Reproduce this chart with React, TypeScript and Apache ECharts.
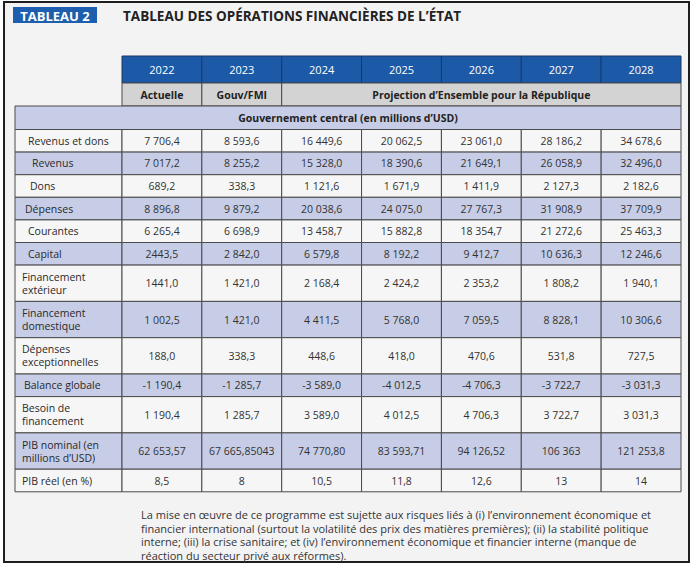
import React, { useEffect, useRef } from "react";
import * as echarts from "echarts";

// ---------- DATA ----------
const years = ["2022", "2023", "2024", "2025", "2026", "2027", "2028"];
const statusLabels = ["Actuelle", "Gouv/FMI"];
const projectionLabel = "Projection d’Ensemble pour la République";
const sectionLabel = "Gouvernement central (en millions d’USD)";
const titleText = "TABLEAU DES OPÉRATIONS FINANCIÈRES DE L’ÉTAT";
const badgeText = "TABLEAU 2";
const footnoteLines = [
  "La mise en œuvre de ce programme est sujette aux risques liés à (i) l’environnement économique et",
  "financier international (surtout la volatilité des prix des matières premières); (ii) la stabilité politique",
  "interne; (iii) la crise sanitaire; et (iv) l’environnement économique et financier interne (manque de",
  "réaction du secteur privé aux réformes).",
];

const rowLabels = [
  "Revenus et dons",
  "Revenus",
  "Dons",
  "Dépenses",
  "Courantes",
  "Capital",
  "Financement\nextérieur",
  "Financement\ndomestique",
  "Dépenses\nexceptionnelles",
  "Balance globale",
  "Besoin de\nfinancement",
  "PIB nominal (en\nmillions d’USD)",
  "PIB réel (en %)",
];

const revenusEtDons = ["7 706,4", "8 593,6", "16 449,6", "20 062,5", "23 061,0", "28 186,2", "34 678,6"];
const revenus = ["7 017,2", "8 255,2", "15 328,0", "18 390,6", "21 649,1", "26 058,9", "32 496,0"];
const dons = ["689,2", "338,3", "1 121,6", "1 671,9", "1 411,9", "2 127,3", "2 182,6"];
const depenses = ["8 896,8", "9 879,2", "20 038,6", "24 075,0", "27 767,3", "31 908,9", "37 709,9"];
const courantes = ["6 265,4", "6 698,9", "13 458,7", "15 882,8", "18 354,7", "21 272,6", "25 463,3"];
const capital = ["2443,5", "2 842,0", "6 579,8", "8 192,2", "9 412,7", "10 636,3", "12 246,6"];
const financementExterieur = ["1441,0", "1 421,0", "2 168,4", "2 424,2", "2 353,2", "1 808,2", "1 940,1"];
const financementDomestique = ["1 002,5", "1 421,0", "4 411,5", "5 768,0", "7 059,5", "8 828,1", "10 306,6"];
const depensesExceptionnelles = ["188,0", "338,3", "448,6", "418,0", "470,6", "531,8", "727,5"];
const balanceGlobale = ["-1 190,4", "-1 285,7", "-3 589,0", "-4 012,5", "-4 706,3", "-3 722,7", "-3 031,3"];
const besoinFinancement = ["1 190,4", "1 285,7", "3 589,0", "4 012,5", "4 706,3", "3 722,7", "3 031,3"];
const pibNominal = ["62 653,57", "67 665,85043", "74 770,80", "83 593,71", "94 126,52", "106 363", "121 253,8"];
const pibReel = ["8,5", "8", "10,5", "11,8", "12,6", "13", "14"];

const tableRows = [
  revenusEtDons, revenus, dons, depenses, courantes, capital,
  financementExterieur, financementDomestique, depensesExceptionnelles,
  balanceGlobale, besoinFinancement, pibNominal, pibReel,
];

// ---------- LAYOUT ----------
const TABLE_LEFT = 15;
const TABLE_TOP = 56;
const TABLE_W = 666;
const TABLE_H = 436;
const LABEL_COL_W = 107;
const YEAR_COL_W = (TABLE_W - LABEL_COL_W) / 7;
const HEADER_H = 27;
const SUB_H = 23;
const SECTION_H = 23.5;
const SINGLE_H = 22.6;
const DOUBLE_H = 36.3;
const labelIndent = [13, 17, 15, 10, 13, 13, 7, 7, 7, 9, 7, 7, 7];

const FONT = "'Open Sans', 'Noto Sans', sans-serif";
const BLUE = "#1c5aa8";
const LAVENDER = "#c7cde6";
const ROW_LIGHT = "#f6f6f6";
const SUB_GRAY = "#d3d3d3";
const BORDER = "#4a4a4a";

type Cell = {
  x0: number; x1: number; y0: number; y1: number;
  text: string; fill: string; stroke: string; color: string;
  font: string; align: "left" | "center"; indent: number;
};

function buildCells(): Cell[] {
  const colEdges: number[] = [0, LABEL_COL_W];
  for (let i = 1; i <= 7; i++) colEdges.push(LABEL_COL_W + YEAR_COL_W * i);
  const cells: Cell[] = [];
  const dataFont = `10.5px ${FONT}`;
  const boldFont = `bold 10.5px ${FONT}`;
  years.forEach((y, i) => {
    cells.push({
      x0: colEdges[i + 1], x1: colEdges[i + 2], y0: 0, y1: HEADER_H,
      text: y, fill: BLUE, stroke: "#1d3763", color: "#ffffff",
      font: `11px ${FONT}`, align: "center", indent: 0,
    });
  });
  const y0s = HEADER_H, y1s = HEADER_H + SUB_H;
  statusLabels.forEach((s, i) => {
    cells.push({
      x0: colEdges[i + 1], x1: colEdges[i + 2], y0: y0s, y1: y1s,
      text: s, fill: SUB_GRAY, stroke: BORDER, color: "#222",
      font: boldFont, align: "center", indent: 0,
    });
  });
  cells.push({
    x0: colEdges[3], x1: colEdges[8], y0: y0s, y1: y1s,
    text: projectionLabel, fill: SUB_GRAY, stroke: BORDER, color: "#222",
    font: boldFont, align: "center", indent: 0,
  });
  cells.push({
    x0: 0, x1: TABLE_W, y0: y1s, y1: y1s + SECTION_H,
    text: sectionLabel, fill: LAVENDER, stroke: BORDER, color: "#222",
    font: boldFont, align: "center", indent: 0,
  });
  let y = y1s + SECTION_H;
  rowLabels.forEach((label, r) => {
    const h = label.includes("\n") ? DOUBLE_H : SINGLE_H;
    const fill = r % 2 === 0 ? ROW_LIGHT : LAVENDER;
    cells.push({
      x0: 0, x1: colEdges[1], y0: y, y1: y + h,
      text: label, fill, stroke: BORDER, color: "#2a2a2a",
      font: dataFont, align: "left", indent: labelIndent[r],
    });
    tableRows[r].forEach((v, c) => {
      cells.push({
        x0: colEdges[c + 1], x1: colEdges[c + 2], y0: y, y1: y + h,
        text: v, fill, stroke: BORDER, color: "#333",
        font: dataFont, align: "center", indent: 0,
      });
    });
    y += h;
  });
  return cells;
}

export default function App() {
  const ref = useRef<HTMLDivElement>(null);
  useEffect(() => {
    if (!ref.current) return;
    const chart = echarts.init(ref.current, undefined, { renderer: "svg" });
    const cells = buildCells();
    const option: any = {
      animation: false,
      backgroundColor: "#ffffff",
      grid: { left: TABLE_LEFT, top: TABLE_TOP, width: TABLE_W, height: TABLE_H, containLabel: false },
      xAxis: { type: "value", min: 0, max: TABLE_W, show: false },
      yAxis: { type: "value", min: 0, max: TABLE_H, inverse: true, show: false },
      graphic: [
        {
          type: "rect", z: -10, silent: true,
          shape: { x: 4, y: 2, width: 685, height: 560 },
          style: { fill: "#f3f3f3", stroke: "#1e1e1e", lineWidth: 2 },
        },
        {
          type: "rect", z: 10,
          shape: { x: 13, y: 7, width: 84, height: 16 },
          style: { fill: "#1d5fae" },
        },
        {
          type: "text", z: 11,
          style: {
            text: badgeText, x: 55, y: 15.5, textAlign: "center", textVerticalAlign: "middle",
            fill: "#ffffff", font: `bold 13px ${FONT}`,
          },
        },
        {
          type: "text", z: 11,
          style: {
            text: titleText, x: 123, y: 15.5, textAlign: "left", textVerticalAlign: "middle",
            fill: "#222222", font: `bold 13.5px ${FONT}`,
          },
        },
        {
          type: "text", z: 11,
          style: {
            text: footnoteLines.join("\n"), x: 141, y: 508, textAlign: "left", textVerticalAlign: "top",
            fill: "#333333", font: `11px ${FONT}`, lineHeight: 13.5,
          },
        },
      ],
      series: [
        {
          type: "custom",
          coordinateSystem: "cartesian2d",
          clip: false,
          silent: true,
          encode: { x: [0, 2], y: [1, 3] },
          data: cells.map((c) => [c.x0, c.y0, c.x1, c.y1]),
          renderItem: (params: any, api: any) => {
            const c = cells[params.dataIndex];
            const p0 = api.coord([api.value(0), api.value(1)]);
            const p1 = api.coord([api.value(2), api.value(3)]);
            const x = Math.min(p0[0], p1[0]);
            const yy = Math.min(p0[1], p1[1]);
            const w = Math.abs(p1[0] - p0[0]);
            const h = Math.abs(p1[1] - p0[1]);
            const tx = c.align === "left" ? api.coord([api.value(0) + c.indent, api.value(1)])[0] : x + w / 2;
            return {
              type: "group",
              children: [
                { type: "rect", shape: { x, y: yy, width: w, height: h }, style: { fill: c.fill, stroke: c.stroke, lineWidth: 1 } },
                {
                  type: "text",
                  style: {
                    text: c.text, x: tx, y: yy + h / 2,
                    textAlign: c.align, textVerticalAlign: "middle",
                    fill: c.color, font: c.font, lineHeight: 13,
                  },
                },
              ],
            };
          },
        },
      ],
    };
    chart.setOption(option);
    return () => chart.dispose();
  }, []);
  return (
    <div
      ref={ref}
      style={{ position: "fixed", left: 0, top: 0, width: 695, height: 567 }}
    />
  );
}
